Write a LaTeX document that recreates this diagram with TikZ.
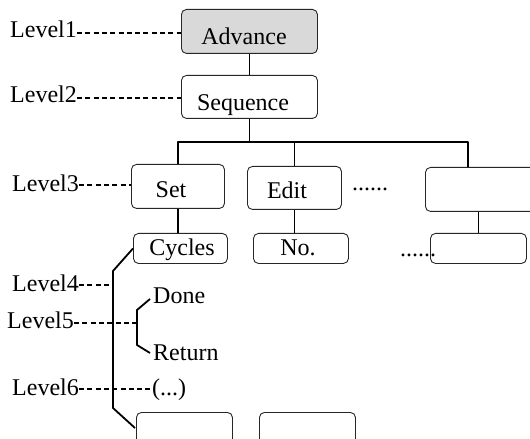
\documentclass[tikz,border=0pt]{standalone}
\usepackage{fontspec}
\setmainfont{Liberation Serif}
\begin{document}
\begin{tikzpicture}[x=1bp,y=-1bp,
  box/.style={draw=black!85, line width=0.9bp, rounded corners=5bp, inner sep=0, anchor=north west},
  conn/.style={line width=1.8bp, line join=round},
  dashline/.style={line width=1.1bp, dash pattern=on 5bp off 3.3bp},
  txt/.style={font=\fontsize{24bp}{28bp}\selectfont, inner sep=0, anchor=base},
  lvl/.style={txt, anchor=base west}]
\useasboundingbox (0,0) rectangle (530,439);
% boxes
\node[box, fill=black!15, minimum width=136bp, minimum height=44bp] (adv) at (181,9) {};
\node[box, minimum width=136bp, minimum height=43bp] (seq) at (181,75) {};
\node[box, minimum width=93bp, minimum height=44bp] (set) at (131,164) {};
\node[box, minimum width=94bp, minimum height=43bp] (edit) at (247,166) {};
\node[box, minimum width=130bp, minimum height=44bp] (r3) at (425,167) {};
\node[box, minimum width=94bp, minimum height=30bp] (cyc) at (133,233) {};
\node[box, minimum width=95bp, minimum height=30bp] (no) at (253,233) {};
\node[box, minimum width=96bp, minimum height=30bp] (r4) at (430,233) {};
\node[box, minimum width=96bp, minimum height=40bp] (b1) at (136,412) {};
\node[box, minimum width=96bp, minimum height=40bp] (b2) at (259,412) {};
% box texts
\node[txt] (tadv) at (244,45) {Advance};
\node[txt] (tseq) at (243,111) {Sequence};
\node[txt] (tset) at (171,198) {Set};
\node[txt] (tedit) at (287,199) {Edit};
\node[txt] (tcyc) at (182,256) {Cycles};
\node[txt] (tno) at (298,256) {No.};
\node[lvl] (dots3) at (352,191) {......};
\node[lvl] (dots4) at (400,257) {......};
\node[lvl] (done) at (153,303) {Done};
\node[lvl] (ret) at (153,360) {Return};
\node[lvl] (par) at (152,395) {(...)};
% level labels
\node[lvl] (l1) at (10,38) {Level1};
\node[lvl] (l2) at (10,103) {Level2};
\node[lvl] (l3) at (12,192) {Level3};
\node[lvl] (l4) at (12,291) {Level4};
\node[lvl] (l5) at (7,328) {Level5};
\node[lvl] (l6) at (12,395) {Level6};
% tree connectors
\coordinate (hb) at (0,142);
\coordinate (hbr) at (468,142);
\coordinate (r3top) at (468,167);
\draw[conn] (adv.south) -- (seq.north);
\draw[conn] (seq.south) -- (seq.south |- hb);
\draw[conn] (set.north) -- (set.north |- hb) -- (hbr) -- (r3top);
\draw[conn] (edit.north) -- (edit.north |- hb);
\draw[conn] (set.south) -- (set.south |- cyc.north);
\draw[conn] (edit.south) -- (edit.south |- no.north);
\draw[conn] (r4.north |- r3.south) -- (r4.north);
% big bracket
\coordinate (k1) at (113,271);
\coordinate (k2) at (113,408);
\coordinate (kend) at (135,428);
\draw[conn] (cyc.west) -- (k1) -- (k2) -- (kend);
% small bracket
\coordinate (s0) at (150,299);
\coordinate (s1) at (137,310);
\coordinate (s2) at (137,345);
\coordinate (s3) at (150,353);
\draw[conn] (s0) -- (s1) -- (s2) -- (s3);
% dashed level leaders
\draw[dashline] (l1.east |- 0,33) -- (adv.west |- 0,33);
\draw[dashline] (l2.east |- 0,98) -- (seq.west |- 0,98);
\draw[dashline] (l3.east |- 0,185) -- (set.west |- 0,185);
\draw[dashline] (l4.east |- 0,285) -- (k1 |- 0,285);
\draw[dashline] (l5.east |- 0,323) -- (s1 |- 0,323);
\draw[dashline] (l6.east |- 0,389) -- (par.west |- 0,389);
\end{tikzpicture}
\end{document}
